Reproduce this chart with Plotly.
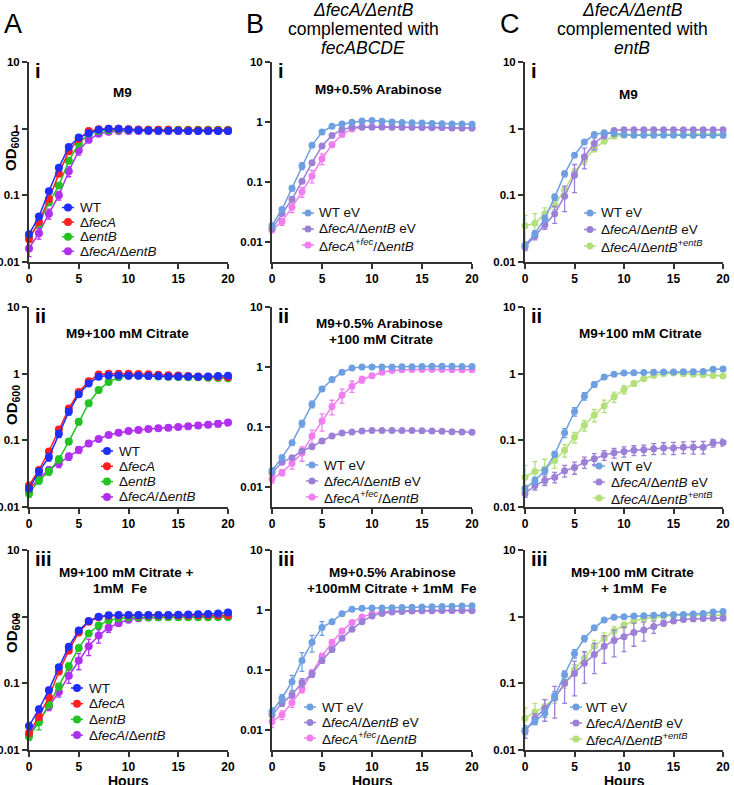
import plotly.graph_objects as go

# ---------------- data ----------------
hours = list(range(21))

# Column A, panel i : M9
a1_wt = [0.026, 0.048, 0.115, 0.26, 0.53, 0.74, 0.85, 0.96, 1.0, 1.0, 0.97, 0.95, 0.94, 0.93, 0.93, 0.93, 0.92, 0.92, 0.92, 0.92, 0.92]
a1_feca = [0.022, 0.040, 0.088, 0.21, 0.46, 0.70, 0.92, 0.98, 1.0, 1.0, 0.98, 0.97, 0.96, 0.96, 0.96, 0.95, 0.95, 0.95, 0.95, 0.95, 0.95]
a1_entb = [0.024, 0.037, 0.078, 0.14, 0.33, 0.60, 0.84, 0.92, 0.95, 0.96, 0.96, 0.96, 0.96, 0.96, 0.96, 0.96, 0.96, 0.96, 0.96, 0.96, 0.96]
a1_dbl = [0.016, 0.027, 0.053, 0.10, 0.23, 0.47, 0.68, 0.84, 0.90, 0.92, 0.92, 0.92, 0.92, 0.92, 0.92, 0.92, 0.92, 0.92, 0.92, 0.92, 0.92]
a1_wt_err = [0.002, 0.003, 0.005, 0.010, 0.02, 0.02, 0.02, 0.02, 0.02, 0.02, 0.02, 0.02, 0.02, 0.02, 0.02, 0.02, 0.02, 0.02, 0.02, 0.02, 0.02]
a1_feca_err = [0.002, 0.004, 0.008, 0.015, 0.03, 0.03, 0.02, 0.02, 0.02, 0.02, 0.02, 0.02, 0.02, 0.02, 0.02, 0.02, 0.02, 0.02, 0.02, 0.02, 0.02]
a1_entb_err = [0.002, 0.003, 0.006, 0.012, 0.03, 0.04, 0.03, 0.02, 0.02, 0.02, 0.02, 0.02, 0.02, 0.02, 0.02, 0.02, 0.02, 0.02, 0.02, 0.02, 0.02]
a1_dbl_err = [0.004, 0.005, 0.009, 0.015, 0.04, 0.07, 0.06, 0.04, 0.03, 0.02, 0.02, 0.02, 0.02, 0.02, 0.02, 0.02, 0.02, 0.02, 0.02, 0.02, 0.02]

# Column A, panel ii : M9 + 100 mM citrate
a2_wt = [0.019, 0.034, 0.056, 0.125, 0.27, 0.49, 0.71, 0.90, 0.94, 0.94, 0.93, 0.93, 0.92, 0.92, 0.91, 0.91, 0.91, 0.90, 0.91, 0.92, 0.93]
a2_feca = [0.021, 0.036, 0.068, 0.145, 0.30, 0.53, 0.77, 0.97, 1.0, 1.0, 1.0, 0.99, 0.98, 0.96, 0.95, 0.94, 0.92, 0.91, 0.90, 0.89, 0.88]
a2_entb = [0.016, 0.025, 0.034, 0.052, 0.096, 0.19, 0.36, 0.57, 0.75, 0.88, 0.93, 0.93, 0.92, 0.91, 0.90, 0.89, 0.88, 0.88, 0.87, 0.86, 0.85]
a2_dbl = [0.018, 0.027, 0.036, 0.045, 0.057, 0.072, 0.090, 0.105, 0.120, 0.130, 0.138, 0.143, 0.148, 0.152, 0.155, 0.158, 0.162, 0.167, 0.172, 0.178, 0.185]
a2_wt_err = [0.002, 0.004, 0.007, 0.015, 0.03, 0.04, 0.03, 0.03, 0.02, 0.02, 0.02, 0.02, 0.02, 0.02, 0.02, 0.02, 0.02, 0.02, 0.02, 0.02, 0.02]
a2_feca_err = [0.002, 0.003, 0.006, 0.012, 0.02, 0.03, 0.03, 0.02, 0.02, 0.02, 0.02, 0.02, 0.02, 0.02, 0.02, 0.02, 0.02, 0.02, 0.02, 0.02, 0.02]
a2_entb_err = [0.002, 0.003, 0.004, 0.006, 0.010, 0.02, 0.03, 0.03, 0.02, 0.02, 0.02, 0.02, 0.02, 0.02, 0.02, 0.02, 0.02, 0.02, 0.02, 0.02, 0.02]
a2_dbl_err = [0.002, 0.003, 0.004, 0.006, 0.007, 0.008, 0.008, 0.008, 0.008, 0.008, 0.008, 0.008, 0.010, 0.010, 0.012, 0.012, 0.014, 0.015, 0.016, 0.018, 0.020]

# Column A, panel iii : M9 + 100 mM citrate + 1 mM Fe
a3_wt = [0.023, 0.041, 0.079, 0.174, 0.355, 0.62, 0.86, 1.0, 1.05, 1.06, 1.06, 1.06, 1.06, 1.06, 1.06, 1.07, 1.08, 1.09, 1.10, 1.12, 1.15]
a3_feca = [0.018, 0.032, 0.062, 0.15, 0.31, 0.58, 0.84, 0.98, 1.03, 1.04, 1.04, 1.04, 1.04, 1.04, 1.04, 1.04, 1.04, 1.05, 1.05, 1.05, 1.05]
a3_entb = [0.016, 0.026, 0.048, 0.09, 0.18, 0.34, 0.56, 0.74, 0.88, 0.94, 0.97, 0.98, 0.98, 0.98, 0.98, 0.98, 0.98, 0.98, 0.98, 0.99, 0.99]
a3_dbl = [0.017, 0.028, 0.045, 0.074, 0.13, 0.22, 0.36, 0.52, 0.68, 0.80, 0.90, 0.95, 0.97, 0.98, 0.99, 0.99, 1.0, 1.0, 1.0, 1.0, 1.0]
a3_wt_err = [0.003, 0.004, 0.008, 0.015, 0.03, 0.04, 0.04, 0.03, 0.03, 0.03, 0.03, 0.03, 0.03, 0.03, 0.03, 0.03, 0.03, 0.03, 0.03, 0.03, 0.03]
a3_feca_err = [0.002, 0.004, 0.007, 0.015, 0.03, 0.04, 0.03, 0.03, 0.03, 0.03, 0.03, 0.03, 0.03, 0.03, 0.03, 0.03, 0.03, 0.03, 0.03, 0.03, 0.03]
a3_entb_err = [0.002, 0.006, 0.005, 0.010, 0.02, 0.03, 0.03, 0.03, 0.03, 0.03, 0.03, 0.03, 0.03, 0.03, 0.03, 0.03, 0.03, 0.03, 0.03, 0.03, 0.03]
a3_dbl_err = [0.002, 0.004, 0.006, 0.012, 0.03, 0.06, 0.10, 0.12, 0.10, 0.06, 0.04, 0.03, 0.02, 0.02, 0.02, 0.02, 0.02, 0.02, 0.02, 0.02, 0.02]

# Column B, panel i : M9 + 0.5% arabinose
b1_wt = [0.019, 0.035, 0.079, 0.186, 0.41, 0.68, 0.85, 0.93, 0.99, 1.04, 1.06, 1.03, 1.0, 0.98, 0.97, 0.96, 0.95, 0.94, 0.93, 0.93, 0.92]
b1_dbl = [0.0167, 0.030, 0.052, 0.103, 0.21, 0.40, 0.60, 0.75, 0.82, 0.83, 0.83, 0.83, 0.82, 0.82, 0.82, 0.81, 0.81, 0.81, 0.80, 0.80, 0.80]
b1_comp = [0.016, 0.022, 0.038, 0.069, 0.127, 0.245, 0.42, 0.62, 0.77, 0.82, 0.83, 0.83, 0.83, 0.82, 0.82, 0.82, 0.81, 0.81, 0.81, 0.80, 0.80]
b1_wt_err = [0.001, 0.003, 0.008, 0.025, 0.03, 0.03, 0.03, 0.03, 0.03, 0.03, 0.03, 0.03, 0.03, 0.03, 0.03, 0.03, 0.03, 0.03, 0.03, 0.03, 0.03]
b1_dbl_err = [0.001, 0.002, 0.004, 0.008, 0.015, 0.02, 0.03, 0.02, 0.02, 0.02, 0.02, 0.02, 0.02, 0.02, 0.02, 0.02, 0.02, 0.02, 0.02, 0.02, 0.02]
b1_comp_err = [0.001, 0.003, 0.007, 0.013, 0.03, 0.05, 0.04, 0.03, 0.02, 0.02, 0.02, 0.02, 0.02, 0.02, 0.02, 0.02, 0.02, 0.02, 0.02, 0.02, 0.02]

# Column B, panel ii : arabinose + 100 mM citrate
b2_wt = [0.019, 0.031, 0.055, 0.115, 0.24, 0.43, 0.62, 0.82, 0.96, 1.0, 1.0, 1.0, 1.0, 1.01, 1.01, 1.02, 1.03, 1.03, 1.03, 1.02, 1.02]
b2_dbl = [0.0174, 0.026, 0.031, 0.040, 0.047, 0.059, 0.071, 0.080, 0.083, 0.086, 0.088, 0.088, 0.088, 0.088, 0.088, 0.087, 0.086, 0.085, 0.084, 0.083, 0.082]
b2_comp = [0.0137, 0.0175, 0.025, 0.037, 0.071, 0.126, 0.22, 0.34, 0.48, 0.62, 0.72, 0.82, 0.88, 0.90, 0.91, 0.91, 0.91, 0.91, 0.90, 0.90, 0.90]
b2_wt_err = [0.002, 0.003, 0.005, 0.015, 0.03, 0.03, 0.03, 0.03, 0.03, 0.03, 0.03, 0.03, 0.03, 0.03, 0.03, 0.03, 0.03, 0.03, 0.03, 0.03, 0.03]
b2_dbl_err = [0.001, 0.002, 0.002, 0.003, 0.003, 0.004, 0.004, 0.004, 0.004, 0.004, 0.004, 0.004, 0.004, 0.004, 0.004, 0.004, 0.004, 0.004, 0.004, 0.004, 0.004]
b2_comp_err = [0.002, 0.002, 0.005, 0.010, 0.018, 0.04, 0.06, 0.09, 0.10, 0.08, 0.05, 0.03, 0.03, 0.03, 0.03, 0.03, 0.03, 0.03, 0.03, 0.03, 0.03]

# Column B, panel iii : arabinose + 100 mM citrate + 1 mM Fe
b3_wt = [0.0205, 0.034, 0.064, 0.145, 0.29, 0.51, 0.64, 0.87, 1.03, 1.07, 1.08, 1.08, 1.09, 1.10, 1.11, 1.12, 1.14, 1.15, 1.16, 1.17, 1.18]
b3_dbl = [0.018, 0.028, 0.039, 0.062, 0.086, 0.145, 0.22, 0.34, 0.48, 0.64, 0.80, 0.88, 0.93, 0.95, 0.96, 0.97, 0.97, 0.98, 0.98, 0.98, 0.98]
b3_comp = [0.014, 0.018, 0.029, 0.048, 0.090, 0.17, 0.29, 0.45, 0.62, 0.77, 0.87, 0.93, 0.96, 0.97, 0.97, 0.97, 0.98, 0.98, 0.98, 0.98, 0.98]
b3_wt_err = [0.003, 0.005, 0.018, 0.05, 0.09, 0.13, 0.04, 0.04, 0.03, 0.03, 0.03, 0.03, 0.03, 0.03, 0.03, 0.03, 0.03, 0.03, 0.03, 0.03, 0.03]
b3_dbl_err = [0.002, 0.003, 0.004, 0.010, 0.010, 0.015, 0.02, 0.02, 0.02, 0.02, 0.02, 0.02, 0.02, 0.02, 0.02, 0.02, 0.02, 0.02, 0.02, 0.02, 0.02]
b3_comp_err = [0.003, 0.003, 0.005, 0.006, 0.012, 0.02, 0.03, 0.03, 0.02, 0.02, 0.02, 0.02, 0.02, 0.02, 0.02, 0.02, 0.02, 0.02, 0.02, 0.02, 0.02]

# Column C, panel i : M9
c1_wt = [0.0178, 0.0266, 0.045, 0.094, 0.21, 0.40, 0.63, 0.82, 0.87, 0.84, 0.81, 0.80, 0.80, 0.80, 0.80, 0.80, 0.80, 0.80, 0.80, 0.80, 0.80]
c1_dbl = [0.0168, 0.0245, 0.036, 0.053, 0.097, 0.20, 0.38, 0.60, 0.79, 0.94, 0.96, 0.96, 0.96, 0.96, 0.96, 0.96, 0.96, 0.96, 0.96, 0.96, 0.96]
c1_comp = [0.035, 0.038, 0.053, 0.073, 0.12, 0.22, 0.34, 0.50, 0.65, 0.77, 0.80, 0.82, 0.82, 0.82, 0.82, 0.82, 0.83, 0.83, 0.83, 0.83, 0.83]
c1_wt_err = [0.002, 0.003, 0.005, 0.010, 0.02, 0.03, 0.03, 0.03, 0.02, 0.02, 0.02, 0.02, 0.02, 0.02, 0.02, 0.02, 0.02, 0.02, 0.02, 0.02, 0.02]
c1_dbl_err = [0.002, 0.003, 0.005, 0.015, 0.04, 0.09, 0.13, 0.12, 0.08, 0.04, 0.03, 0.02, 0.02, 0.02, 0.02, 0.02, 0.02, 0.02, 0.02, 0.02, 0.02]
c1_comp_err = [0.015, 0.015, 0.012, 0.012, 0.015, 0.03, 0.05, 0.05, 0.04, 0.03, 0.02, 0.02, 0.02, 0.02, 0.02, 0.02, 0.02, 0.02, 0.02, 0.02, 0.02]

# Column C, panel ii : M9 + 100 mM citrate
c2_wt = [0.019, 0.025, 0.035, 0.062, 0.13, 0.27, 0.46, 0.69, 0.89, 0.98, 1.02, 1.03, 1.04, 1.05, 1.06, 1.06, 1.07, 1.07, 1.08, 1.16, 1.17]
c2_dbl = [0.016, 0.021, 0.025, 0.028, 0.035, 0.039, 0.047, 0.053, 0.060, 0.065, 0.068, 0.071, 0.072, 0.075, 0.077, 0.077, 0.079, 0.079, 0.079, 0.091, 0.093]
c2_comp = [0.028, 0.034, 0.037, 0.050, 0.071, 0.112, 0.168, 0.24, 0.33, 0.45, 0.58, 0.71, 0.84, 0.94, 1.0, 1.02, 1.0, 0.98, 0.96, 0.94, 0.92]
c2_wt_err = [0.002, 0.003, 0.004, 0.006, 0.02, 0.04, 0.06, 0.06, 0.04, 0.03, 0.03, 0.03, 0.03, 0.03, 0.03, 0.03, 0.03, 0.03, 0.03, 0.03, 0.03]
c2_dbl_err = [0.002, 0.003, 0.004, 0.005, 0.007, 0.008, 0.009, 0.010, 0.010, 0.011, 0.012, 0.012, 0.013, 0.014, 0.015, 0.016, 0.016, 0.017, 0.017, 0.012, 0.012]
c2_comp_err = [0.014, 0.014, 0.015, 0.012, 0.015, 0.02, 0.03, 0.05, 0.07, 0.08, 0.08, 0.06, 0.04, 0.03, 0.03, 0.03, 0.03, 0.03, 0.03, 0.03, 0.03]

# Column C, panel iii : M9 + 100 mM citrate + 1 mM Fe
c3_wt = [0.020, 0.027, 0.036, 0.065, 0.134, 0.28, 0.47, 0.68, 0.89, 0.98, 1.0, 1.02, 1.03, 1.05, 1.06, 1.07, 1.08, 1.10, 1.12, 1.17, 1.20]
c3_dbl = [0.019, 0.030, 0.042, 0.060, 0.10, 0.14, 0.20, 0.27, 0.36, 0.44, 0.50, 0.58, 0.63, 0.71, 0.80, 0.86, 0.91, 0.92, 0.94, 0.95, 0.95]
c3_comp = [0.030, 0.037, 0.045, 0.060, 0.10, 0.16, 0.24, 0.36, 0.47, 0.61, 0.75, 0.86, 0.94, 0.98, 1.02, 1.05, 1.05, 1.05, 1.05, 1.05, 1.05]
c3_wt_err = [0.003, 0.003, 0.005, 0.010, 0.02, 0.04, 0.05, 0.05, 0.04, 0.03, 0.03, 0.03, 0.03, 0.03, 0.03, 0.03, 0.03, 0.03, 0.03, 0.03, 0.03]
c3_dbl_err = [0.004, 0.005, 0.015, 0.03, 0.05, 0.075, 0.10, 0.13, 0.16, 0.19, 0.20, 0.22, 0.20, 0.15, 0.08, 0.05, 0.04, 0.04, 0.04, 0.04, 0.04]
c3_comp_err = [0.013, 0.013, 0.012, 0.010, 0.015, 0.03, 0.05, 0.08, 0.10, 0.10, 0.08, 0.05, 0.03, 0.03, 0.03, 0.03, 0.03, 0.03, 0.03, 0.03, 0.03]

# legend labels
names_a = ["WT", "Δ<i>fecA</i>", "Δ<i>entB</i>", "Δ<i>fecA</i>/Δ<i>entB</i>"]
names_b = ["WT eV", "Δ<i>fecA</i>/Δ<i>entB</i> eV", "Δ<i>fecA</i><sup><i>+fec</i></sup>/Δ<i>entB</i>"]
names_c = ["WT eV", "Δ<i>fecA</i>/Δ<i>entB</i> eV", "Δ<i>fecA</i>/Δ<i>entB</i><sup><i>+entB</i></sup>"]

colors_a = ["#1f2dff", "#ff1f1f", "#22c322", "#b02ff0"]
colors_b = ["#6e9fe0", "#9c80d8", "#f07ef0"]
colors_c = ["#6e9fe0", "#9c80d8", "#b3e07a"]

titles = [
    ["M9"], ["M9+0.5% Arabinose"], ["M9"],
    ["M9+100 mM Citrate"], ["M9+0.5% Arabinose", "+100 mM Citrate"], ["M9+100 mM Citrate"],
    ["M9+100 mM Citrate +", "1mM\u00a0 Fe"], ["M9+0.5% Arabinose", "+100mM Citrate + 1mM\u00a0 Fe"],
    ["M9+100 mM Citrate", "+ 1mM\u00a0 Fe"],
]
numerals = ["i", "ii", "iii"]
ytick_vals = [0.01, 0.1, 1, 10]
ytick_text = ["0.01", "0.1", "1", "10"]
xtick_vals = [0, 5, 10, 15, 20]
x_title = "Hours"
y_title = "OD<sub>600</sub>"

# ---------------- layout geometry (pixels) ----------------
W, H = 734, 785
FONT = "Arial, 'Liberation Sans', sans-serif"
AXC = "#333333"
col_px = [(29, 228), (272, 472), (525, 723)]
row_px = [(62, 262), (307, 507), (550, 750)]
yrange_col = [[-2, 1], [-2.33, 1], [-2, 1]]

# title line centres (x, y) per panel
title_pos = [
    [(122, 93)], [(378, 90)], [(628, 95)],
    [(127, 333)], [(379, 323), (381, 339)], [(640, 333)],
    [(126, 572), (120, 588)], [(392, 572), (392, 588)], [(632, 572), (634, 588)],
]
# legend: (marker x, text x, first row y, row step)
legend_pos = [
    (68, 78, 207.5, 14.6), (308, 317, 213, 16), (590, 599, 213, 16.5),
    (107, 117, 451, 15.3), (312, 322, 465, 16), (599, 609, 466, 16),
    (77, 87, 688, 15.7), (310, 320, 707, 15.5), (576, 584, 707, 16),
]


def px(x):
    return x / W


def py(y):
    return 1 - y / H


panel_series = [
    ([a1_wt, a1_feca, a1_entb, a1_dbl], [a1_wt_err, a1_feca_err, a1_entb_err, a1_dbl_err], names_a, colors_a),
    ([b1_wt, b1_dbl, b1_comp], [b1_wt_err, b1_dbl_err, b1_comp_err], names_b, colors_b),
    ([c1_wt, c1_dbl, c1_comp], [c1_wt_err, c1_dbl_err, c1_comp_err], names_c, colors_c),
    ([a2_wt, a2_feca, a2_entb, a2_dbl], [a2_wt_err, a2_feca_err, a2_entb_err, a2_dbl_err], names_a, colors_a),
    ([b2_wt, b2_dbl, b2_comp], [b2_wt_err, b2_dbl_err, b2_comp_err], names_b, colors_b),
    ([c2_wt, c2_dbl, c2_comp], [c2_wt_err, c2_dbl_err, c2_comp_err], names_c, colors_c),
    ([a3_wt, a3_feca, a3_entb, a3_dbl], [a3_wt_err, a3_feca_err, a3_entb_err, a3_dbl_err], names_a, colors_a),
    ([b3_wt, b3_dbl, b3_comp], [b3_wt_err, b3_dbl_err, b3_comp_err], names_b, colors_b),
    ([c3_wt, c3_dbl, c3_comp], [c3_wt_err, c3_dbl_err, c3_comp_err], names_c, colors_c),
]

fig = go.Figure()
annotations = []
shapes = []


def ann(text, x, y, size, bold=False, xanchor="center", yanchor="middle", angle=0, color="#000000"):
    annotations.append(dict(
        text=text, x=px(x), y=py(y), xref="paper", yref="paper", showarrow=False,
        xanchor=xanchor, yanchor=yanchor, textangle=angle,
        font=dict(family=FONT, size=size, color=color, weight="bold" if bold else "normal"),
    ))


layout_axes = {}
for k in range(9):
    r, c = divmod(k, 3)
    idx = k + 1
    xa = "x" if idx == 1 else f"x{idx}"
    ya = "y" if idx == 1 else f"y{idx}"
    vals, errs, names, cols = panel_series[k]
    msize = 8 if c == 0 else 7
    for j in reversed(range(len(vals))):
        fig.add_trace(go.Scatter(
            x=hours, y=vals[j], name=names[j], mode="lines+markers",
            line=dict(color=cols[j], width=1.5),
            marker=dict(color=cols[j], size=msize),
            error_y=dict(type="data", array=errs[j], color=cols[j], thickness=1.3, width=2.5),
            cliponaxis=False, showlegend=False, xaxis=xa, yaxis=ya,
        ))
    x0, x1 = col_px[c]
    y0, y1 = row_px[r]
    axis_common = dict(
        showline=True, linewidth=2, linecolor=AXC, ticks="outside", ticklen=5,
        tickwidth=1.5, tickcolor=AXC, showgrid=False, zeroline=False, automargin=False,
        ticklabeloverflow="allow",
    )
    xkey = "xaxis" if idx == 1 else f"xaxis{idx}"
    ykey = "yaxis" if idx == 1 else f"yaxis{idx}"
    layout_axes[xkey] = dict(domain=[px(x0), px(x1)], anchor=ya, range=[0, 20], tickvals=xtick_vals,
                             tickfont=dict(family=FONT, size=12, color="#000000", weight="bold"), **axis_common)
    layout_axes[ykey] = dict(domain=[py(y1), py(y0)], anchor=xa, type="log", range=yrange_col[c],
                             tickvals=ytick_vals, ticktext=ytick_text,
                             tickfont=dict(family=FONT, size=11.5, color="#000000", weight="bold"), **axis_common)

    # x-axis title under the bottom row
    if r == 2:
        ann(x_title, (x0 + x1) / 2, 781, 14, bold=True)
    # roman numeral
    ann(numerals[r], x0 + 4, y0 + 9, 20, bold=True, xanchor="left")
    # panel title
    for line, (tx, ty) in zip(titles[k], title_pos[k]):
        ann(line, tx, ty, 13.5, bold=True)
    # legend (glyph + label)
    mx, tx, ystart, ystep = legend_pos[k]
    rad = msize / 2
    for j in range(len(names)):
        yy = ystart + j * ystep
        shapes.append(dict(type="line", xref="paper", yref="paper", x0=px(mx - 6), x1=px(mx + 6),
                           y0=py(yy), y1=py(yy), line=dict(color=cols[j], width=1.5)))
        shapes.append(dict(type="circle", xref="paper", yref="paper", x0=px(mx - rad), x1=px(mx + rad),
                           y0=py(yy + rad), y1=py(yy - rad), fillcolor=cols[j], line=dict(width=0)))
        ann(names[j], tx, yy, 13.5, xanchor="left", color="#111111")

# y-axis titles (column A)
for yy in [151, 405, 633]:
    ann(y_title, 12, yy, 15, bold=True, angle=-90)

# panel letters
ann("A", 2, 24, 27, xanchor="left")
ann("B", 244, 24, 27, xanchor="left")
ann("C", 498, 24, 27, xanchor="left")

# column headers
ann("<i>ΔfecA/ΔentB</i>", 363, 10, 17.5)
ann("complemented with", 363, 29, 17.5)
ann("<i>fecABCDE</i>", 363, 48, 17.5)
ann("<i>ΔfecA/ΔentB</i>", 632, 10, 17.5)
ann("complemented with", 632, 29, 17.5)
ann("<i>entB</i>", 632, 48, 17.5)

fig.update_layout(
    width=W, height=H, margin=dict(l=0, r=0, t=0, b=0, autoexpand=False),
    paper_bgcolor="white", plot_bgcolor="white", showlegend=False,
    annotations=annotations, shapes=shapes, **layout_axes,
)

fig.write_html(
    "out.html",
    config={"displayModeBar": False},
    post_script="document.body.style.margin='0';document.body.style.overflow='hidden';",
)
